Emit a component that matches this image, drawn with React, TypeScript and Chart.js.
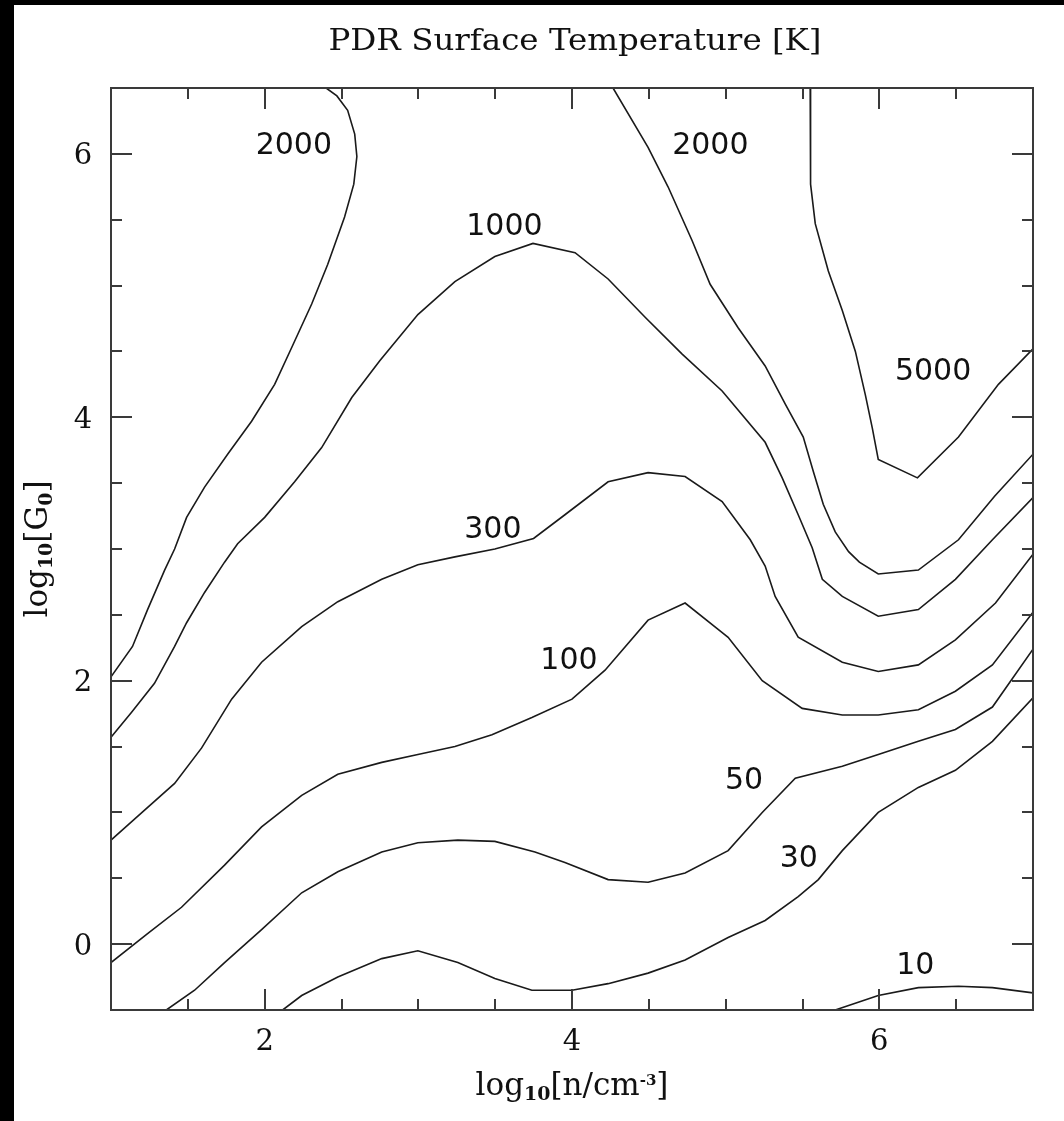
import React, { useEffect, useRef } from 'react';
import { Chart, registerables } from 'chart.js';

Chart.register(...registerables);

// ---------- axes ----------
const xRange = [1, 7];
const yRange = [-0.5, 6.5];
const xMajorTicks = [2, 4, 6];
const xMinorTicks = [1.5, 2.5, 3, 3.5, 4.5, 5, 5.5, 6.5];
const yMajorTicks = [0, 2, 4, 6];
const yMinorTicks = [0.5, 1, 1.5, 2.5, 3, 3.5, 4.5, 5, 5.5];
const chartTitle = 'PDR Surface Temperature [K]';

// ---------- contour lines: x = log10 n, y = log10 G0 ----------
const c2000aX = [2.40, 2.47, 2.54, 2.586, 2.60, 2.58, 2.52, 2.41, 2.306, 2.176, 2.065, 1.915, 1.759, 1.609, 1.492, 1.414, 1.349, 1.238, 1.14, 1.0];
const c2000aY = [6.5, 6.44, 6.33, 6.15, 5.98, 5.77, 5.52, 5.16, 4.86, 4.53, 4.25, 3.97, 3.72, 3.47, 3.24, 3.0, 2.84, 2.54, 2.26, 2.03];

const c2000bX = [4.267, 4.495, 4.625, 4.782, 4.899, 5.081, 5.257, 5.388, 5.505, 5.57, 5.635, 5.713, 5.80, 5.87, 5.993, 6.254, 6.515, 6.75, 7.0];
const c2000bY = [6.5, 6.05, 5.75, 5.34, 5.01, 4.68, 4.39, 4.10, 3.85, 3.59, 3.34, 3.13, 2.98, 2.90, 2.81, 2.84, 3.07, 3.40, 3.72];

const c5000X = [5.55, 5.55, 5.555, 5.583, 5.668, 5.759, 5.844, 5.909, 5.954, 5.993, 6.248, 6.515, 6.775, 7.0];
const c5000Y = [6.5, 6.28, 5.77, 5.47, 5.11, 4.81, 4.50, 4.17, 3.92, 3.68, 3.54, 3.85, 4.25, 4.52];

const c1000X = [1.0, 1.134, 1.283, 1.414, 1.492, 1.609, 1.739, 1.824, 2.0, 2.195, 2.371, 2.567, 2.749, 2.997, 3.238, 3.498, 3.746, 4.02, 4.235, 4.476, 4.717, 4.977, 5.257, 5.368, 5.472, 5.563, 5.629, 5.759, 5.993, 6.254, 6.495, 6.736, 7.0];
const c1000Y = [1.57, 1.76, 1.98, 2.26, 2.44, 2.67, 2.90, 3.04, 3.24, 3.51, 3.77, 4.15, 4.43, 4.78, 5.03, 5.22, 5.32, 5.25, 5.05, 4.76, 4.48, 4.20, 3.81, 3.54, 3.26, 3.01, 2.77, 2.64, 2.49, 2.54, 2.77, 3.07, 3.39];

const c300X = [1.0, 1.173, 1.414, 1.590, 1.785, 1.980, 2.241, 2.476, 2.762, 2.997, 3.238, 3.498, 3.75, 3.954, 4.235, 4.495, 4.736, 4.977, 5.16, 5.257, 5.322, 5.472, 5.759, 5.993, 6.254, 6.495, 6.756, 7.0];
const c300Y = [0.79, 0.97, 1.22, 1.49, 1.86, 2.14, 2.41, 2.60, 2.77, 2.88, 2.94, 3.00, 3.08, 3.26, 3.51, 3.58, 3.55, 3.36, 3.07, 2.87, 2.64, 2.33, 2.14, 2.07, 2.12, 2.31, 2.59, 2.96];

const c100X = [1.0, 1.238, 1.459, 1.739, 1.980, 2.241, 2.476, 2.762, 2.997, 3.238, 3.479, 3.739, 4.0, 4.215, 4.495, 4.736, 4.951, 5.016, 5.238, 5.498, 5.759, 5.993, 6.254, 6.495, 6.736, 7.0];
const c100Y = [-0.14, 0.08, 0.28, 0.60, 0.89, 1.13, 1.29, 1.38, 1.44, 1.50, 1.59, 1.72, 1.86, 2.08, 2.46, 2.59, 2.39, 2.33, 2.0, 1.79, 1.74, 1.74, 1.78, 1.92, 2.12, 2.52];

const c50X = [1.36, 1.544, 1.739, 1.980, 2.241, 2.476, 2.762, 2.997, 3.257, 3.498, 3.759, 3.954, 4.235, 4.495, 4.736, 5.016, 5.238, 5.453, 5.759, 5.993, 6.254, 6.495, 6.736, 7.0];
const c50Y = [-0.5, -0.35, -0.14, 0.11, 0.39, 0.55, 0.70, 0.77, 0.79, 0.78, 0.70, 0.62, 0.49, 0.47, 0.54, 0.71, 1.00, 1.26, 1.35, 1.44, 1.54, 1.63, 1.80, 2.24];

const c30X = [2.117, 2.241, 2.476, 2.762, 2.997, 3.257, 3.498, 3.739, 4.0, 4.235, 4.495, 4.736, 5.016, 5.257, 5.472, 5.603, 5.759, 5.993, 6.254, 6.495, 6.736, 7.0];
const c30Y = [-0.5, -0.39, -0.25, -0.11, -0.05, -0.14, -0.26, -0.35, -0.35, -0.30, -0.22, -0.12, 0.05, 0.18, 0.36, 0.49, 0.71, 1.0, 1.19, 1.32, 1.54, 1.87];

const c10X = [5.713, 5.993, 6.254, 6.515, 6.736, 7.0];
const c10Y = [-0.5, -0.39, -0.33, -0.32, -0.33, -0.37];

const contourNames = ['2000 K (low n)', '2000 K (high n)', '5000 K', '1000 K', '300 K', '100 K', '50 K', '30 K', '10 K'];
const contourXs = [c2000aX, c2000bX, c5000X, c1000X, c300X, c100X, c50X, c30X, c10X];
const contourYs = [c2000aY, c2000bY, c5000Y, c1000Y, c300Y, c100Y, c50Y, c30Y, c10Y];

// ---------- contour labels ----------
const labelTexts = ['2000', '2000', '1000', '5000', '300', '100', '50', '30', '10'];
const labelX = [2.19, 4.90, 3.56, 6.35, 3.485, 3.98, 5.12, 5.476, 6.234];
const labelY = [6.08, 6.08, 5.47, 4.37, 3.17, 2.17, 1.26, 0.67, -0.14];

type Part = { text: string; font: string; dy: number };

function drawRich(ctx: CanvasRenderingContext2D, parts: Part[], cx: number, baseY: number) {
  let total = 0;
  const widths = parts.map((p) => {
    ctx.font = p.font;
    const w = ctx.measureText(p.text).width;
    total += w;
    return w;
  });
  let x = cx - total / 2;
  ctx.textAlign = 'left';
  ctx.textBaseline = 'alphabetic';
  parts.forEach((p, i) => {
    ctx.font = p.font;
    ctx.fillText(p.text, x, baseY + p.dy);
    x += widths[i];
  });
}

const framePlugin = {
  id: 'pdrFrame',
  afterDatasetsDraw(chart: any) {
    const ctx = chart.ctx as CanvasRenderingContext2D;
    const sx = chart.scales.x;
    const sy = chart.scales.y;
    const { left, right, top, bottom } = chart.chartArea;
    ctx.save();

    // frame
    ctx.strokeStyle = '#3a3a3a';
    ctx.lineWidth = 2;
    ctx.strokeRect(left, top, right - left, bottom - top);

    // ticks on all four sides, pointing inwards
    ctx.beginPath();
    const xt = (vals: number[], len: number) => {
      vals.forEach((v) => {
        const p = Math.round(sx.getPixelForValue(v));
        ctx.moveTo(p, bottom);
        ctx.lineTo(p, bottom - len);
        ctx.moveTo(p, top);
        ctx.lineTo(p, top + len);
      });
    };
    const yt = (vals: number[], len: number) => {
      vals.forEach((v) => {
        const p = Math.round(sy.getPixelForValue(v));
        ctx.moveTo(left, p);
        ctx.lineTo(left + len, p);
        ctx.moveTo(right, p);
        ctx.lineTo(right - len, p);
      });
    };
    xt(xMajorTicks, 21);
    xt(xMinorTicks, 11);
    yt(yMajorTicks, 21);
    yt(yMinorTicks, 11);
    ctx.stroke();

    ctx.fillStyle = '#111';
    // tick labels
    ctx.font = '29px "DejaVu Serif"';
    ctx.textAlign = 'center';
    ctx.textBaseline = 'alphabetic';
    xMajorTicks.forEach((v) => {
      ctx.fillText(String(v), sx.getPixelForValue(v), bottom + 40);
    });
    yMajorTicks.forEach((v) => {
      ctx.fillText(String(v), left - 28, sy.getPixelForValue(v) + 10.5);
    });

    // contour labels
    ctx.font = '30px "DejaVu Sans"';
    labelTexts.forEach((t, i) => {
      ctx.fillText(t, sx.getPixelForValue(labelX[i]), sy.getPixelForValue(labelY[i]) + 11);
    });

    // title
    ctx.font = '29px "DejaVu Serif"';
    const tw = ctx.measureText(chartTitle).width;
    const cxTitle = (left + right) / 2 + 3;
    ctx.save();
    ctx.translate(cxTitle, 45);
    ctx.scale(493 / tw, 1);
    ctx.textAlign = 'center';
    ctx.fillText(chartTitle, 0, 0);
    ctx.restore();

    // x-axis title
    const main = '31px "DejaVu Serif"';
    drawRich(
      ctx,
      [
        { text: 'log', font: main, dy: 0 },
        { text: '10', font: 'bold 19px "DejaVu Serif"', dy: 5 },
        { text: '[n/cm', font: main, dy: 0 },
        { text: '-3', font: 'bold 15px "DejaVu Serif"', dy: -10 },
        { text: ']', font: main, dy: 0 },
      ],
      (left + right) / 2,
      bottom + 85
    );

    // y-axis title (rotated)
    ctx.save();
    ctx.translate(33, (top + bottom) / 2);
    ctx.rotate(-Math.PI / 2);
    drawRich(
      ctx,
      [
        { text: 'log', font: main, dy: 0 },
        { text: '10', font: 'bold 19px "DejaVu Serif"', dy: 5 },
        { text: '[G', font: main, dy: 0 },
        { text: '0', font: 'bold 19px "DejaVu Serif"', dy: 5 },
        { text: ']', font: main, dy: 0 },
      ],
      0,
      0
    );
    ctx.restore();

    ctx.restore();
  },
};

export default function App() {
  const ref = useRef<HTMLCanvasElement>(null);

  useEffect(() => {
    const canvas = ref.current;
    if (!canvas) return;
    const datasets = contourNames.map((name, k) => ({
      label: name,
      data: contourXs[k].map((x, i) => ({ x, y: contourYs[k][i] })),
      showLine: true,
      borderColor: '#1a1a1a',
      backgroundColor: '#1a1a1a',
      borderWidth: 1.6,
      pointRadius: 0,
      pointHoverRadius: 0,
      tension: 0,
      fill: false,
    }));
    const chart = new Chart(canvas, {
      type: 'scatter',
      data: { datasets },
      options: {
        responsive: false,
        animation: false,
        events: [],
        layout: { padding: { left: 97, top: 83, right: 31, bottom: 111 } },
        plugins: {
          legend: { display: false },
          tooltip: { enabled: false },
          title: { display: false },
        },
        scales: {
          x: { type: 'linear', min: xRange[0], max: xRange[1], display: false },
          y: { type: 'linear', min: yRange[0], max: yRange[1], display: false },
        },
      },
      plugins: [framePlugin],
    } as any);
    return () => chart.destroy();
  }, []);

  return (
    <div style={{ position: 'fixed', left: 0, top: 0, width: 1064, height: 1121, background: '#000' }}>
      <div style={{ position: 'absolute', left: 14, top: 5, width: 1050, height: 1116, background: '#fff' }}>
        <canvas ref={ref} width={1050} height={1116} style={{ display: 'block', width: 1050, height: 1116 }} />
      </div>
    </div>
  );
}
